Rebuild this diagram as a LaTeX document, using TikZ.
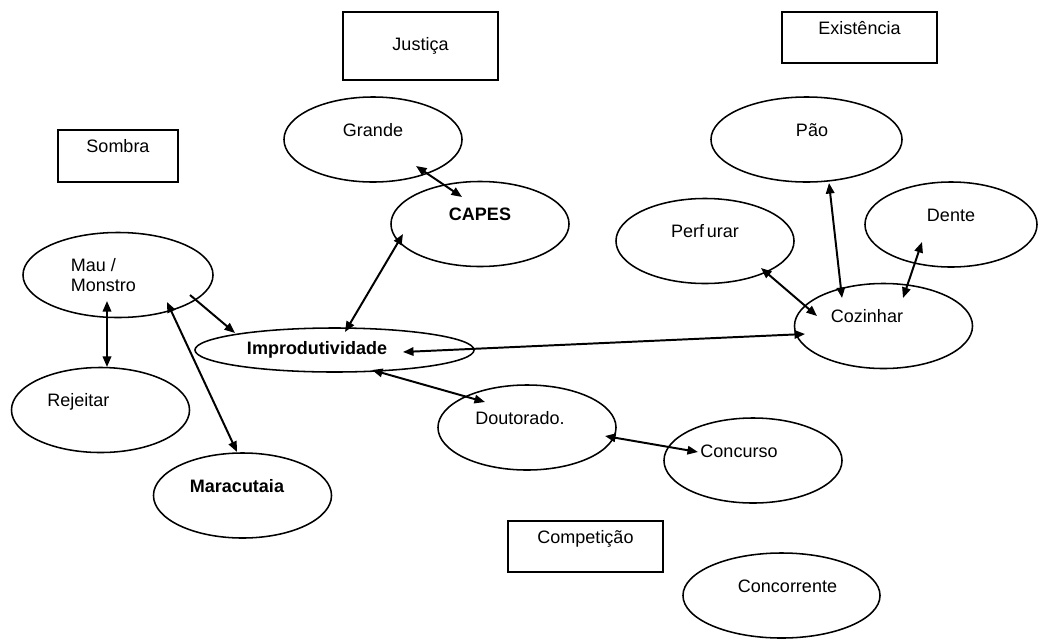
\documentclass[tikz,border=0pt]{standalone}
\usepackage{fontspec}
\setmainfont{Liberation Sans}
\usetikzlibrary{shapes.geometric,arrows.meta}

\begin{document}
\begin{tikzpicture}[x=0.025cm,y=-0.025cm,font=\fontsize{12.8pt}{14.2pt}\selectfont]
	%defines
	\tikzset{concept/.style={ellipse, draw=black, line width=1.1pt, minimum width=4.45cm, minimum height=2.125cm, text height=0.8em, text depth=0.44cm}}
	\tikzset{flat/.style={text height=, text depth=}}
	\tikzset{theme/.style={rectangle, draw=black, line width=1.3pt, minimum width=3.875cm, minimum height=1.275cm, text height=0.8em, text depth=0.44cm}}
	\tikzset{link/.style={line width=1.4pt, <->, >={Triangle[length=7.5pt,width=6pt]}}}
	\useasboundingbox (0,0) rectangle (1038,639);
	%themes
	\node (sombra) [theme, minimum width=3cm, minimum height=1.3cm] at (118,156) {Sombra};
	\node (justica) [theme, flat, minimum height=1.7cm] at (420.5,46) {Justiça};
	\node (existencia) [theme] at (859.5,37.5) {Existência};
	\node (competicao) [theme] at (585.5,546.5) {Competição};
	%concepts
	\node (mau) [concept, flat, minimum width=4.75cm, align=left] at (118,275) {Mau /\\Monstro\hspace*{0.725cm}};
	\node (rejeitar) [concept] at (100.5,410) {Rejeitar\hspace*{1.1cm}};
	\node (maracutaia) [concept] at (242.5,495.5) {\bfseries Maracutaia\hspace*{0.275cm}};
	\node (improd) [concept, flat, minimum width=6.975cm, minimum height=1.1cm] at (334.5,350) {\bfseries Improdutividade\hspace*{0.875cm}};
	\node (grande) [concept] at (373,139.5) {Grande};
	\node (capes) [concept] at (480,224) {\bfseries CAPES};
	\node (doutorado) [concept] at (527,427.5) {Doutorado.\hspace*{0.35cm}};
	\node (concurso) [concept] at (753,460.5) {Concurso\hspace*{0.7cm}};
	\node (concorrente) [concept, minimum width=4.925cm] at (781.5,595.5) {\hspace*{0.3cm}Concorrente};
	\node (pao) [concept, minimum width=4.775cm] at (806.5,139.5) {\hspace*{0.275cm}Pão};
	\node (perfurar) [concept] at (705,241) {Perf\hspace{0.15em}urar};
	\node (dente) [concept, minimum width=4.3cm] at (951,224.5) {Dente};
	\node (cozinhar) [concept] at (883.5,326) {Cozinhar\hspace*{0.825cm}};
	%links
	\draw [link] ([shift={(-11,26)}]mau.center) -- ([shift={(6.5,-43)}]rejeitar.center);
	\draw [link, ->] ([shift={(72,20)}]mau.center) -- ([shift={(-99.5,-17)}]improd.center);
	\draw [link] ([shift={(49,27)}]mau.center) -- ([shift={(-5.5,-43.5)}]maracutaia.center);
	\draw [link] ([shift={(10.5,-18)}]improd.center) -- ([shift={(-77,10)}]capes.center);
	\draw [link] ([shift={(43,26.5)}]grande.center) -- ([shift={(-18,-27)}]capes.center);
	\draw [link] ([shift={(68.5,2)}]improd.center) -- ([shift={(-78.5,8)}]cozinhar.center);
	\draw [link] ([shift={(37.5,20)}]improd.center) -- ([shift={(-42,-25.5)}]doutorado.center);
	\draw [link] ([shift={(78,8.5)}]doutorado.center) -- ([shift={(-55,-8.5)}]concurso.center);
	\draw [link] ([shift={(22.5,43.5)}]pao.center) -- ([shift={(-41.5,-28)}]cozinhar.center);
	\draw [link] ([shift={(56,27)}]perfurar.center) -- ([shift={(-66.5,-10)}]cozinhar.center);
	\draw [link] ([shift={(-29,17.5)}]dente.center) -- ([shift={(19.5,-28)}]cozinhar.center);
\end{tikzpicture}
\end{document}
